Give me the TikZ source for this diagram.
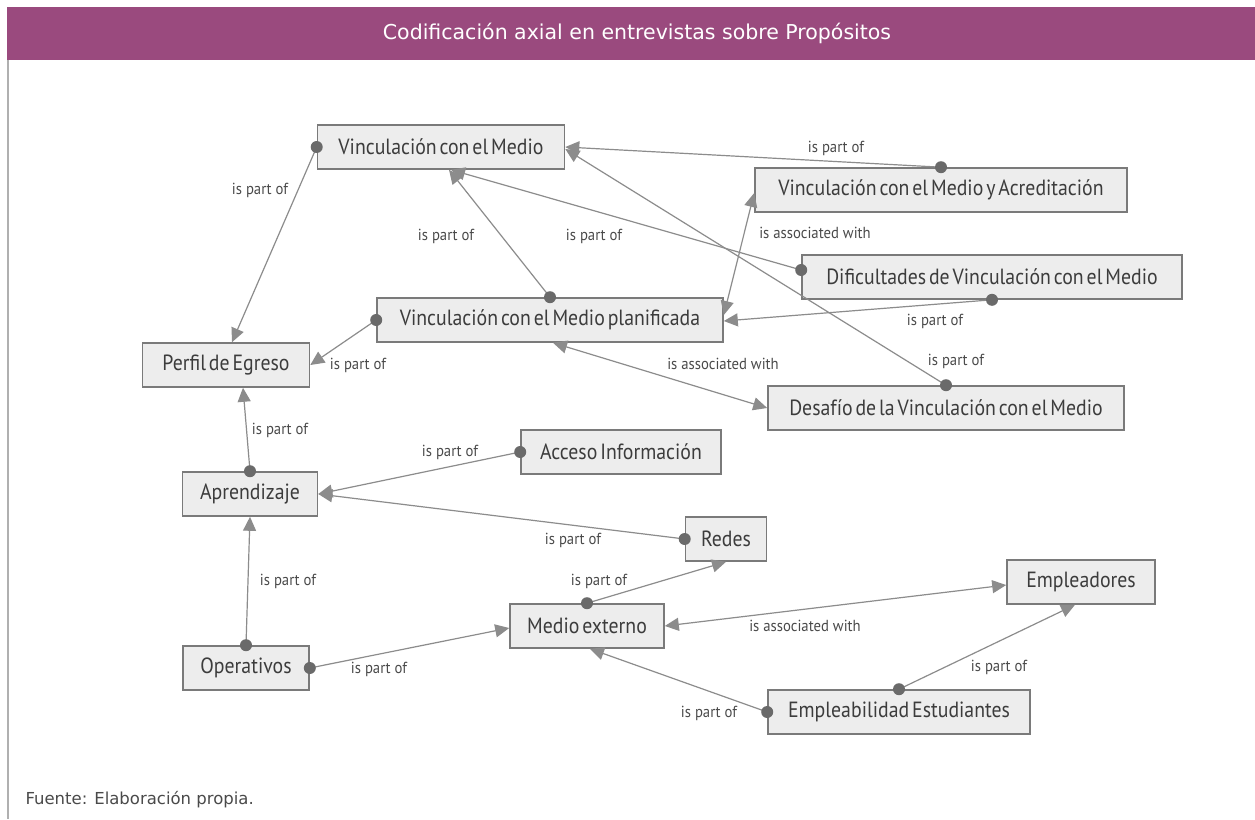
\documentclass[tikz,border=0pt]{standalone}
\usepackage{fontspec}
\setmainfont{DejaVu Sans}
\newfontfamily\boxfont[FakeStretch=0.9,WordSpace=0.55]{PT Sans}
\newfontfamily\lblfont[FakeStretch=0.92]{PT Sans}
\usetikzlibrary{arrows.meta,calc}
\definecolor{band}{HTML}{9A4A7E}
\definecolor{boxfill}{HTML}{EDEDED}
\definecolor{boxline}{HTML}{7A7A7A}
\definecolor{boxtext}{HTML}{3C3C3C}
\definecolor{linkc}{HTML}{8C8C8C}
\definecolor{dotc}{HTML}{6A6A6A}
\definecolor{lblc}{HTML}{4A4A4A}
\definecolor{framec}{HTML}{B0B0B0}
\begin{document}
\begin{tikzpicture}[x=1pt,y=-1pt,
  concept/.style={draw=boxline,line width=1.6pt,fill=boxfill,minimum height=44pt,
    inner sep=0pt,font=\boxfont\fontsize{22}{24}\selectfont,text=boxtext},
  tip/.tip={Triangle[length=14pt,width=13pt]},
  link/.style={draw=linkc,line width=1.2pt,-tip},
  both/.style={draw=linkc,line width=1.2pt,tip-tip},
  lbl/.style={font=\lblfont\fontsize{16}{18}\selectfont,text=lblc,inner sep=0pt},
  src/.style={fill=dotc}
]
% page and frame
\useasboundingbox (0,0) rectangle (1255,819);
\fill[white] (0,0) rectangle (1255,819);
\fill[band] (7,7) rectangle (1255,60);
\draw[framec,line width=1.2pt] (8,60) -- (8,819);
\node[text=white,font=\fontsize{20.5}{23}\selectfont] (title) at (637,33)
  {Codificación axial en entrevistas sobre Propósitos};
\node[anchor=west,text=lblc,font=\fontsize{16.5}{18}\selectfont] (src) at (22,800)
  {Fuente: Elaboración propia.};

% concepts
\node[concept,minimum width=247pt] (vm)  at (441,147) {Vinculación con el Medio};
\node[concept,minimum width=372pt] (vma) at (941,190) {Vinculación con el Medio y Acreditación};
\node[concept,minimum width=380pt] (dif) at (992,277) {Dificultades de Vinculación con el Medio};
\node[concept,minimum width=346pt] (vmp) at (550,320) {Vinculación con el Medio planificada};
\node[concept,minimum width=167pt] (pe)  at (226,365) {Perfil de Egreso};
\node[concept,minimum width=356pt] (des) at (946,408) {Desafío de la Vinculación con el Medio};
\node[concept,minimum width=200pt] (acc) at (621,452) {Acceso Información};
\node[concept,minimum width=135pt] (apr) at (250,494) {Aprendizaje};
\node[concept,minimum width=81pt]  (red) at (726,539) {Redes};
\node[concept,minimum width=148pt] (emp) at (1081,582) {Empleadores};
\node[concept,minimum width=154pt] (me)  at (587,626) {Medio externo};
\node[concept,minimum width=126pt] (op)  at (246,668) {Operativos};
\node[concept,minimum width=262pt] (emb) at (899,712) {Empleabilidad Estudiantes};

% connectors: dot at the source, arrow at the target
\draw[link] (vm.west) -- ([xshift=6pt]pe.north);
\draw[link] (vma.north) -- (vm.east);
\draw[link] (vmp.north) -- ([xshift=8pt]vm.south);
\draw[link] ([yshift=7pt]dif.west) -- ([xshift=10pt]vm.south);
\draw[link] (dif.south) -- ([yshift=-1pt]vmp.east);
\draw[link] (vmp.west) -- (pe.east);
\draw[link] (des.north) -- ([yshift=-2pt]vm.east);
\draw[both] ([xshift=3pt]vmp.south) -- (des.west);
\draw[both] ([yshift=-3pt]vma.west) -- ([yshift=5pt]vmp.east);
\draw[both] (me.east) -- ([yshift=-3pt]emp.west);
\draw[link] (apr.north) -- ([xshift=17pt]pe.south);
\draw[link] (acc.west) -- (apr.east);
\draw[link] (red.west) -- (apr.east);
\draw[link] (op.north) -- (apr.south);
\draw[link] (op.east) -- ([yshift=-2pt]me.west);
\draw[link] (me.north) -- (red.south);
\draw[link] (emb.west) -- ([xshift=3pt]me.south);
\draw[link] (emb.north) -- ([xshift=-6pt]emp.south);

\foreach \p in {vm.west, vma.north, vmp.north, dif.south, vmp.west, des.north,
  apr.north, acc.west, red.west, op.north, op.east, me.north, emb.west, emb.north}
  \fill[src] (\p) circle (6pt);
\fill[src] ([yshift=7pt]dif.west) circle (6pt);

% relation labels
\node[lbl] (l1)  at (260,190) {is part of};
\node[lbl] (l2)  at (836,148) {is part of};
\node[lbl] (l3)  at (446,236) {is part of};
\node[lbl] (l4)  at (594,236) {is part of};
\node[lbl] (l5)  at (935,321) {is part of};
\node[lbl] (l6)  at (358,365) {is part of};
\node[lbl] (l7)  at (956,361) {is part of};
\node[lbl] (l8)  at (280,430) {is part of};
\node[lbl] (l9)  at (450,452) {is part of};
\node[lbl] (l10) at (573,540) {is part of};
\node[lbl] (l11) at (288,581) {is part of};
\node[lbl] (l12) at (599,581) {is part of};
\node[lbl] (l13) at (379,669) {is part of};
\node[lbl] (l14) at (709,713) {is part of};
\node[lbl] (l15) at (999,667) {is part of};
\node[lbl] (a1)  at (815,233) {is associated with};
\node[lbl] (a2)  at (723,364) {is associated with};
\node[lbl] (a3)  at (805,626) {is associated with};
\end{tikzpicture}
\end{document}
